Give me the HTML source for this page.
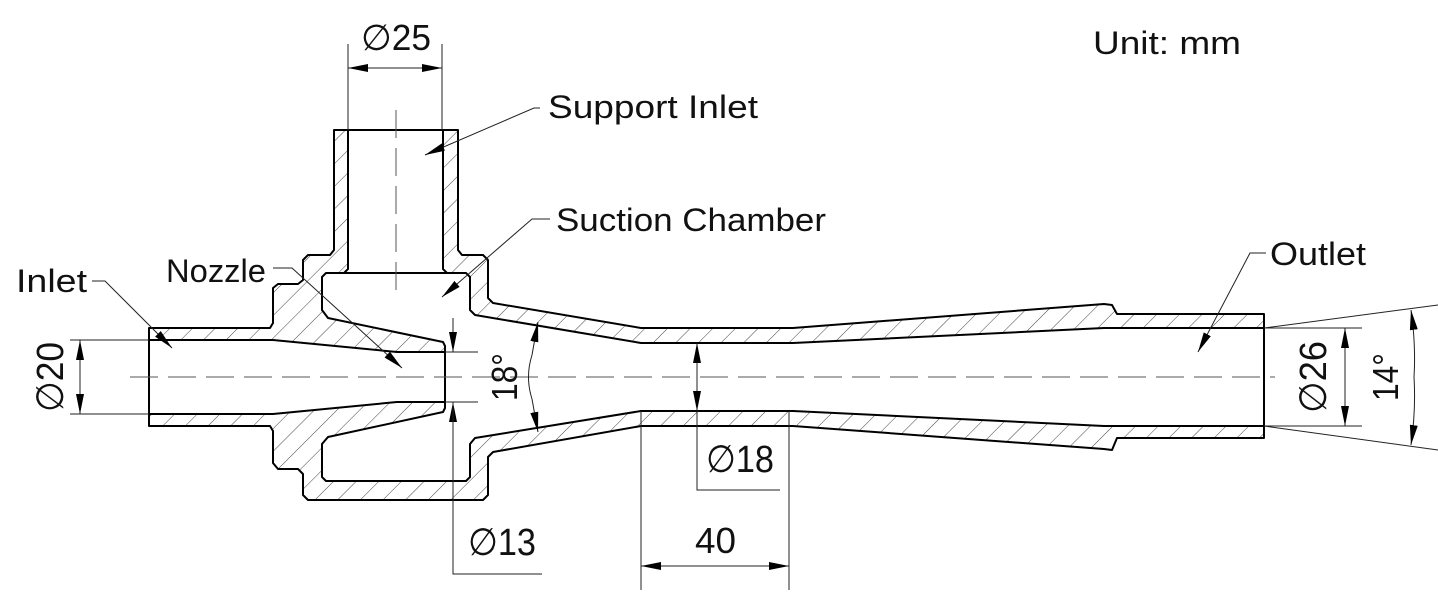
<!DOCTYPE html>
<html><head><meta charset="utf-8"><style>
html,body{margin:0;padding:0;background:#fff;}
svg{display:block;}
text{font-family:"Liberation Sans","DejaVu Sans",sans-serif;fill:#111;}
</style></head><body>
<svg width="1438" height="603" viewBox="0 0 1438 603" xmlns="http://www.w3.org/2000/svg">
<defs>
<pattern id="h" width="16" height="16" patternUnits="userSpaceOnUse" patternTransform="rotate(45)">
<line x1="0" y1="0" x2="0" y2="16" stroke="#444" stroke-width="1"/>
</pattern>
<marker id="a" viewBox="0 0 20 8" refX="20" refY="4" markerWidth="20" markerHeight="8" markerUnits="userSpaceOnUse" orient="auto">
<path d="M0,0 L20,4 L0,8 Z" fill="#000"/>
</marker>
</defs>

<path fill="url(#h)" fill-rule="evenodd" stroke="none" d="
M149,328 L270,328 L273,323 L273,288 L278,284 L298,284 L303,280 L303,260 L308,255 L330,255 L334,250 L334,130 L458,130 L458,250 L462,255 L483,255 L488,260 L488,298 L493,303 L641,328 L793,328 L1104,304 L1112,305 L1117,314 L1264,314 L1264,438 L1117,438 L1112,450 L1104,449 L793,426 L641,426 L493,452 L488,457 L488,495 L483,500 L308,500 L303,495 L303,474 L298,469 L278,469 L273,463 L273,431 L270,426 L149,426 Z
M149,340 L273,340 L397,352 L445,352 L445,346 L443,342 L328,318 L322,310 L322,277 L326,273 L344,273 L348,269 L348,130 L443,130 L443,269 L447,273 L466,273 L470,277 L470,310 L475,315 L641,343 L793,343 L1104,328 L1264,328 L1264,426 L1104,426 L793,411 L641,411 L475,438 L470,444 L470,477 L466,481 L326,481 L322,477 L322,444 L328,437 L443,412 L445,408 L445,402 L397,402 L273,414 L149,414 Z"/>
<path fill="none" stroke="#000" stroke-width="2" stroke-linejoin="round" d="
M149,328 L270,328 L273,323 L273,288 L278,284 L298,284 L303,280 L303,260 L308,255 L330,255 L334,250 L334,130 L458,130 L458,250 L462,255 L483,255 L488,260 L488,298 L493,303 L641,328 L793,328 L1104,304 L1112,305 L1117,314 L1264,314 L1264,438 L1117,438 L1112,450 L1104,449 L793,426 L641,426 L493,452 L488,457 L488,495 L483,500 L308,500 L303,495 L303,474 L298,469 L278,469 L273,463 L273,431 L270,426 L149,426 Z
M149,340 L273,340 L397,352 L445,352 L445,346 L443,342 L328,318 L322,310 L322,277 L326,273 L344,273 L348,269 L348,130 L443,130 L443,269 L447,273 L466,273 L470,277 L470,310 L475,315 L641,343 L793,343 L1104,328 L1264,328 L1264,426 L1104,426 L793,411 L641,411 L475,438 L470,444 L470,477 L466,481 L326,481 L322,477 L322,444 L328,437 L443,412 L445,408 L445,402 L397,402 L273,414 L149,414 Z
M326,273 L466,273 M445,352 L445,402"/>

<line x1="130" y1="377" x2="1275" y2="377" stroke="#555" stroke-width="1" stroke-dasharray="28,10"/>
<line x1="396" y1="110" x2="396" y2="292" stroke="#555" stroke-width="1" stroke-dasharray="28,10"/>

<g stroke="#222" stroke-width="1" fill="none">
<line x1="348" y1="44" x2="348" y2="130"/><line x1="442" y1="44" x2="442" y2="130"/>
<line x1="372" y1="68" x2="348" y2="68" marker-end="url(#a)"/><line x1="420" y1="68" x2="442" y2="68" marker-end="url(#a)"/><line x1="372" y1="68" x2="420" y2="68"/>
<polyline points="540,108 534,108 425,155" marker-end="url(#a)"/>
<polyline points="550,219 532,219 442,297" marker-end="url(#a)"/>
<polyline points="273,268 292,268 402,368" marker-end="url(#a)"/>
<polyline points="92,281 105,281 172,348" marker-end="url(#a)"/>
<polyline points="1266,253 1250,253 1198,352" marker-end="url(#a)"/>
<line x1="70" y1="340" x2="149" y2="340"/><line x1="70" y1="414" x2="149" y2="414"/>
<line x1="80" y1="377" x2="80" y2="340" marker-end="url(#a)"/><line x1="80" y1="377" x2="80" y2="414" marker-end="url(#a)"/>
<line x1="445" y1="352" x2="478" y2="352"/><line x1="445" y1="402" x2="478" y2="402"/>
<line x1="453" y1="318" x2="453" y2="352" marker-end="url(#a)"/>
<line x1="453" y1="440" x2="453" y2="402" marker-end="url(#a)"/>
<polyline points="453,402 453,574 542,574"/>
<path d="M532,355 Q525,377 532,399"/>
<path d="M532,355 Q535,338 538,322" marker-end="url(#a)"/>
<path d="M532,399 Q535,416 538,432" marker-end="url(#a)"/>
<line x1="697" y1="377" x2="697" y2="343" marker-end="url(#a)"/><line x1="697" y1="377" x2="697" y2="411" marker-end="url(#a)"/>
<polyline points="697,411 697,490 780,490"/>
<line x1="641" y1="411" x2="641" y2="590"/><line x1="789" y1="411" x2="789" y2="590"/>
<line x1="715" y1="566" x2="641" y2="566" marker-end="url(#a)"/><line x1="715" y1="566" x2="789" y2="566" marker-end="url(#a)"/>
<line x1="1264" y1="328" x2="1362" y2="328"/><line x1="1264" y1="426" x2="1362" y2="426"/>
<line x1="1345" y1="377" x2="1345" y2="328" marker-end="url(#a)"/><line x1="1345" y1="377" x2="1345" y2="426" marker-end="url(#a)"/>
<line x1="1264" y1="328" x2="1438" y2="305"/><line x1="1264" y1="426" x2="1438" y2="450"/>
<path d="M1414,377 Q1416,345 1411,310" marker-end="url(#a)"/>
<path d="M1414,377 Q1416,410 1411,445" marker-end="url(#a)"/>
</g>

<text x="361" y="50" font-size="36" textLength="70" lengthAdjust="spacingAndGlyphs">∅25</text>
<text x="548" y="118" font-size="32" textLength="210" lengthAdjust="spacingAndGlyphs">Support Inlet</text>
<text x="556" y="231" font-size="32" textLength="270" lengthAdjust="spacingAndGlyphs">Suction Chamber</text>
<text x="166" y="282" font-size="32" textLength="100" lengthAdjust="spacingAndGlyphs">Nozzle</text>
<text x="16" y="292" font-size="32" textLength="71" lengthAdjust="spacingAndGlyphs">Inlet</text>
<text x="1270" y="265" font-size="32" textLength="96" lengthAdjust="spacingAndGlyphs">Outlet</text>
<text x="1093" y="54" font-size="32" textLength="148" lengthAdjust="spacingAndGlyphs">Unit: mm</text>
<text x="468" y="555" font-size="38" textLength="68" lengthAdjust="spacingAndGlyphs">∅13</text>
<text x="706" y="472" font-size="38" textLength="68" lengthAdjust="spacingAndGlyphs">∅18</text>
<text x="695" y="553" font-size="36" textLength="41" lengthAdjust="spacingAndGlyphs">40</text>
<text transform="translate(63,412) rotate(-90)" font-size="38" textLength="70" lengthAdjust="spacingAndGlyphs">∅20</text>
<text transform="translate(517,401) rotate(-90)" font-size="36" textLength="48" lengthAdjust="spacingAndGlyphs">18°</text>
<text transform="translate(1326,413) rotate(-90)" font-size="38" textLength="72" lengthAdjust="spacingAndGlyphs">∅26</text>
<text transform="translate(1398,401) rotate(-90)" font-size="36" textLength="48" lengthAdjust="spacingAndGlyphs">14°</text>
</svg>
</body></html>
